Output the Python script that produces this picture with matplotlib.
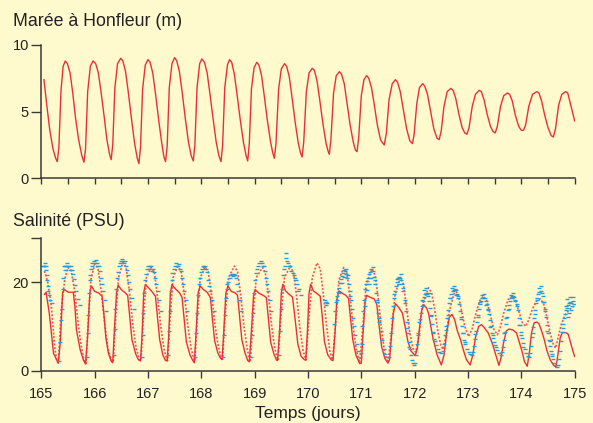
import numpy as np
import matplotlib
matplotlib.use("Agg")
import matplotlib.pyplot as plt

plt.rcParams["font.family"] = ["Liberation Sans", "DejaVu Sans"]

# Tide height at Honfleur: (day of year, metres)
tide_pts = [
    (165.05, 7.4), (165.10, 5.6), (165.16, 3.6), (165.22, 2.2), (165.27, 1.5),
    (165.30, 1.25), (165.33, 2.3), (165.37, 6.6), (165.41, 8.4), (165.45, 8.8), (165.49, 8.6), (165.54, 7.9), (165.59, 6.4), (165.64, 4.6), (165.70, 2.9), (165.76, 1.7),
    (165.80, 1.2), (165.83, 2.2), (165.87, 6.5), (165.92, 8.4), (165.97, 8.8), (166.02, 8.6), (166.07, 7.9), (166.12, 6.5), (166.18, 4.6), (166.23, 2.9), (166.28, 1.8),
    (166.31, 1.4), (166.34, 2.5), (166.38, 6.8), (166.43, 8.6), (166.49, 9.0), (166.53, 8.8), (166.58, 8.0), (166.63, 6.5), (166.69, 4.5), (166.75, 2.6), (166.80, 1.5),
    (166.83, 1.1), (166.86, 2.3), (166.90, 6.7), (166.95, 8.5), (167.00, 8.9), (167.04, 8.7), (167.09, 7.9), (167.14, 6.4), (167.20, 4.4), (167.26, 2.6), (167.30, 1.6),
    (167.33, 1.25), (167.36, 2.4), (167.40, 6.8), (167.45, 8.6), (167.50, 9.05), (167.54, 8.8), (167.59, 8.0), (167.64, 6.5), (167.70, 4.5), (167.76, 2.7), (167.81, 1.7),
    (167.85, 1.3), (167.88, 2.5), (167.92, 6.8), (167.97, 8.6), (168.01, 8.95), (168.06, 8.7), (168.11, 7.9), (168.16, 6.4), (168.22, 4.5), (168.28, 2.7), (168.33, 1.7),
    (168.37, 1.25), (168.40, 2.5), (168.44, 6.8), (168.49, 8.5), (168.53, 8.9), (168.57, 8.7), (168.62, 7.8), (168.67, 6.3), (168.73, 4.4), (168.79, 2.7), (168.84, 1.7),
    (168.87, 1.3), (168.90, 2.6), (168.94, 6.7), (168.99, 8.3), (169.04, 8.7), (169.08, 8.5), (169.13, 7.7), (169.18, 6.2), (169.24, 4.3), (169.30, 2.7), (169.34, 1.9),
    (169.37, 1.5), (169.40, 2.6), (169.45, 6.7), (169.50, 8.2), (169.56, 8.6), (169.60, 8.4), (169.65, 7.6), (169.70, 6.1), (169.76, 4.2), (169.82, 2.6), (169.86, 1.9),
    (169.89, 1.6), (169.92, 2.7), (169.97, 6.5), (170.02, 7.9), (170.08, 8.25), (170.12, 8.1), (170.17, 7.3), (170.22, 5.9), (170.28, 4.1), (170.34, 2.6), (170.38, 2.0),
    (170.40, 1.8), (170.43, 2.9), (170.48, 6.4), (170.53, 7.7), (170.59, 8.0), (170.63, 7.8), (170.68, 7.1), (170.73, 5.7), (170.79, 4.0), (170.85, 2.7), (170.89, 2.1),
    (170.92, 2.0), (170.95, 3.0), (171.00, 6.2), (171.05, 7.4), (171.10, 7.7), (171.14, 7.5), (171.19, 6.8), (171.24, 5.6), (171.30, 4.0), (171.36, 2.9), (171.39, 2.7),
    (171.43, 2.5), (171.47, 3.4), (171.52, 5.9), (171.58, 7.1), (171.64, 7.4), (171.68, 7.2), (171.73, 6.5), (171.79, 5.1), (171.85, 3.7), (171.91, 2.8),
    (171.96, 2.6), (171.99, 3.3), (172.04, 5.6), (172.09, 6.8), (172.15, 7.1), (172.19, 6.9), (172.24, 6.3), (172.30, 5.0), (172.36, 3.7), (172.42, 3.0),
    (172.46, 2.9), (172.50, 3.6), (172.55, 5.4), (172.61, 6.5), (172.68, 6.75), (172.72, 6.6), (172.77, 6.0), (172.83, 4.8), (172.89, 3.8), (172.94, 3.4),
    (172.98, 3.3), (173.02, 3.8), (173.08, 5.4), (173.14, 6.3), (173.21, 6.6), (173.25, 6.5), (173.30, 5.9), (173.36, 4.8), (173.42, 3.9), (173.47, 3.5),
    (173.51, 3.4), (173.55, 3.9), (173.61, 5.4), (173.67, 6.2), (173.74, 6.4), (173.78, 6.3), (173.83, 5.8), (173.89, 4.7), (173.95, 3.9), (174.00, 3.6),
    (174.04, 3.6), (174.08, 4.0), (174.14, 5.4), (174.21, 6.3), (174.29, 6.5), (174.33, 6.4), (174.38, 5.8), (174.44, 4.7), (174.50, 3.8), (174.56, 3.2),
    (174.60, 3.1), (174.64, 3.7), (174.70, 5.5), (174.76, 6.3), (174.83, 6.5), (174.87, 6.4), (174.92, 5.6), (174.97, 4.8), (175.00, 4.3),
]

# Salinity, station record (solid red): (day, PSU)
sal_solid_pts = [
    (165.06, 17.2), (165.09, 17.7), (165.15, 13.0), (165.19, 8.5), (165.23, 3.9), (165.29, 2.4),
    (165.32, 1.7), (165.36, 7.0), (165.40, 17.6), (165.43, 18.3), (165.51, 17.7), (165.60, 17.7), (165.63, 14.5), (165.66, 9.2), (165.73, 4.7), (165.79, 2.4),
    (165.83, 1.5), (165.87, 8.0), (165.91, 17.5), (165.94, 19.1), (166.00, 17.9), (166.08, 17.5), (166.14, 16.8), (166.18, 12.0), (166.21, 7.5), (166.26, 3.9), (166.31, 2.2),
    (166.34, 1.8), (166.37, 9.0), (166.41, 17.5), (166.44, 19.3), (166.50, 18.3), (166.57, 17.6), (166.62, 17.0), (166.66, 12.0), (166.70, 7.0), (166.77, 3.8), (166.82, 2.5),
    (166.86, 2.2), (166.89, 8.0), (166.92, 17.5), (166.95, 19.4), (167.02, 18.6), (167.09, 17.6), (167.14, 16.8), (167.18, 12.0), (167.22, 7.0), (167.28, 3.5), (167.33, 2.3),
    (167.36, 2.2), (167.39, 8.0), (167.42, 17.5), (167.45, 19.4), (167.52, 18.4), (167.59, 17.6), (167.64, 16.5), (167.68, 11.5), (167.72, 6.5), (167.79, 3.5), (167.84, 2.3),
    (167.87, 1.8), (167.90, 8.0), (167.94, 17.5), (167.98, 19.1), (168.04, 18.3), (168.11, 17.7), (168.17, 16.5), (168.21, 11.5), (168.25, 6.8), (168.31, 4.0), (168.36, 2.8),
    (168.39, 2.5), (168.42, 8.5), (168.46, 17.5), (168.50, 19.1), (168.56, 17.9), (168.63, 17.6), (168.68, 17.0), (168.72, 12.0), (168.76, 7.0), (168.82, 4.0), (168.87, 2.3),
    (168.90, 2.0), (168.94, 9.0), (168.98, 17.0), (169.01, 18.3), (169.08, 17.5), (169.16, 17.0), (169.22, 16.5), (169.26, 11.5), (169.30, 6.5), (169.36, 3.8), (169.41, 2.4),
    (169.43, 2.3), (169.47, 9.5), (169.50, 17.5), (169.53, 19.5), (169.58, 18.0), (169.65, 17.2), (169.71, 16.6), (169.76, 11.5), (169.81, 6.0), (169.87, 3.3), (169.93, 2.5),
    (169.96, 2.4), (169.99, 9.0), (170.02, 17.5), (170.05, 19.5), (170.10, 18.0), (170.17, 17.4), (170.23, 16.8), (170.27, 12.0), (170.31, 6.5), (170.37, 3.6), (170.44, 2.4),
    (170.47, 2.3), (170.51, 9.0), (170.54, 16.0), (170.58, 18.0), (170.64, 17.5), (170.71, 17.0), (170.76, 16.3), (170.80, 11.5), (170.84, 7.0), (170.90, 3.5), (170.97, 1.6),
    (171.00, 1.7), (171.03, 8.0), (171.07, 15.5), (171.10, 17.0), (171.16, 16.6), (171.24, 16.2), (171.29, 15.0), (171.33, 10.5), (171.38, 5.5), (171.44, 2.8), (171.50, 1.7),
    (171.53, 2.5), (171.56, 7.0), (171.60, 13.0), (171.64, 15.1), (171.70, 14.3), (171.77, 13.0), (171.82, 10.0), (171.87, 6.8), (171.93, 4.5), (172.01, 3.4),
    (172.05, 5.0), (172.09, 9.5), (172.13, 13.5), (172.17, 14.9), (172.22, 14.2), (172.26, 13.0), (172.31, 9.5), (172.35, 7.0), (172.42, 3.6), (172.50, 1.3),
    (172.55, 3.5), (172.60, 8.5), (172.65, 12.0), (172.70, 12.7), (172.75, 11.5), (172.80, 9.0), (172.86, 7.0), (172.91, 4.8), (172.97, 2.5), (173.04, 1.3),
    (173.09, 3.5), (173.14, 7.5), (173.20, 10.0), (173.25, 10.4), (173.30, 9.8), (173.38, 8.5), (173.46, 6.0), (173.51, 4.0), (173.58, 1.2),
    (173.62, 3.0), (173.67, 6.5), (173.72, 9.0), (173.77, 9.4), (173.84, 9.2), (173.91, 8.5), (173.96, 6.5), (174.01, 4.5), (174.06, 2.0), (174.11, 1.0),
    (174.15, 4.0), (174.19, 8.5), (174.24, 10.8), (174.29, 11.0), (174.33, 10.6), (174.38, 9.0), (174.43, 7.0), (174.48, 4.5), (174.54, 2.5), (174.60, 1.3), (174.65, 0.8),
    (174.69, 4.0), (174.73, 7.5), (174.77, 8.6), (174.83, 8.6), (174.88, 8.2), (174.93, 6.0), (174.97, 4.3), (175.00, 3.2),
]

# Salinity, second record (dotted red): (day, PSU)
sal_dotted_pts = [
    (165.06, 22.5), (165.12, 20.0), (165.19, 14.5), (165.25, 5.5), (165.29, 2.2),
    (165.32, 1.6), (165.375, 13.8), (165.44, 20.6), (165.50, 23.3), (165.56, 22.6), (165.63, 17.6), (165.69, 10.8), (165.75, 5.5), (165.80, 2.5),
    (165.84, 1.6), (165.88, 11.0), (165.93, 20.5), (166.00, 24.0), (166.06, 23.2), (166.13, 17.5), (166.19, 10.5), (166.25, 5.0), (166.31, 2.5),
    (166.35, 2.0), (166.39, 11.0), (166.45, 21.0), (166.53, 24.4), (166.59, 23.3), (166.66, 17.0), (166.72, 10.0), (166.78, 5.0), (166.84, 2.6),
    (166.87, 2.3), (166.91, 11.0), (166.97, 21.0), (167.06, 23.3), (167.12, 22.3), (167.18, 16.5), (167.24, 10.0), (167.30, 5.0), (167.35, 2.6),
    (167.37, 2.3), (167.41, 11.0), (167.47, 21.0), (167.56, 23.5), (167.62, 22.5), (167.69, 16.5), (167.75, 10.0), (167.81, 5.0), (167.86, 2.6),
    (167.88, 2.2), (167.92, 11.0), (167.98, 21.0), (168.07, 23.3), (168.13, 22.3), (168.20, 16.5), (168.26, 10.0), (168.32, 5.5), (168.37, 3.0),
    (168.40, 2.6), (168.44, 11.5), (168.51, 21.0), (168.62, 23.6), (168.68, 22.3), (168.74, 17.0), (168.80, 10.0), (168.86, 5.0), (168.91, 2.2),
    (168.92, 2.0), (168.97, 12.0), (169.03, 21.0), (169.15, 23.3), (169.20, 22.0), (169.26, 17.0), (169.32, 10.0), (169.38, 5.0), (169.43, 2.5),
    (169.44, 2.4), (169.49, 12.0), (169.56, 21.0), (169.67, 23.6), (169.73, 22.0), (169.79, 16.5), (169.85, 9.5), (169.91, 4.5), (169.96, 2.4),
    (170.02, 12.0), (170.08, 21.0), (170.17, 24.3), (170.23, 23.0), (170.29, 17.0), (170.35, 10.0), (170.41, 4.5), (170.46, 2.4),
    (170.52, 11.0), (170.58, 20.5), (170.67, 23.3), (170.73, 22.0), (170.79, 16.5), (170.85, 9.5), (170.91, 4.5), (170.97, 1.8),
    (171.03, 10.0), (171.09, 19.5), (171.20, 22.9), (171.26, 21.5), (171.32, 16.0), (171.38, 9.0), (171.44, 4.0), (171.50, 1.8),
    (171.56, 8.0), (171.63, 17.0), (171.73, 21.0), (171.79, 19.5), (171.85, 14.0), (171.91, 8.5), (171.97, 5.0), (172.02, 4.2),
    (172.08, 8.0), (172.15, 15.0), (172.26, 18.7), (172.32, 17.5), (172.38, 13.5), (172.44, 8.5), (172.49, 5.8), (172.53, 4.8),
    (172.59, 8.0), (172.65, 13.5), (172.76, 18.3), (172.82, 17.0), (172.88, 13.5), (172.94, 10.0), (173.01, 7.7),
    (173.08, 9.5), (173.15, 13.0), (173.22, 15.8), (173.29, 16.8), (173.35, 15.8), (173.41, 13.0), (173.48, 9.5), (173.55, 8.1),
    (173.60, 9.5), (173.67, 13.0), (173.75, 16.0), (173.83, 16.8), (173.89, 15.8), (173.95, 13.5), (174.02, 10.8), (174.08, 10.0),
    (174.14, 11.5), (174.21, 14.0), (174.29, 15.8), (174.36, 16.2), (174.42, 15.0), (174.48, 12.0), (174.54, 8.5), (174.60, 6.0), (174.64, 5.1),
    (174.69, 7.5), (174.75, 10.5), (174.82, 12.5), (174.88, 13.5), (174.94, 14.2), (174.98, 14.5),
]

# Salinity, probe samples (blue): (day, PSU)
sal_probe_pts = [
    (165.04, 23.6), (165.05, 23.6), (165.06, 23.6), (165.07, 24.2), (165.08, 23.6), (165.09, 22.8), (165.10, 21.5), (165.11, 20.5),
    (165.12, 19.2), (165.13, 18.0), (165.15, 17.0), (165.17, 16.0), (165.20, 15.3),
    (165.33, 2.2), (165.35, 6.5), (165.37, 11.5), (165.38, 14.0), (165.40, 18.5), (165.41, 21.0), (165.42, 23.6), (165.44, 23.6), (165.45, 22.8),
    (165.46, 23.6), (165.48, 24.2), (165.50, 23.6), (165.52, 23.6), (165.54, 22.8), (165.56, 23.6), (165.58, 22.6), (165.60, 21.8),
    (165.62, 20.6), (165.64, 19.4), (165.66, 18.0), (165.69, 16.2), (165.72, 14.8),
    (165.85, 3.0), (165.87, 8.5), (165.88, 12.5), (165.90, 17.5), (165.91, 20.5), (165.92, 21.5), (165.93, 23.0), (165.95, 23.6), (165.96, 24.2),
    (165.98, 24.8), (166.00, 24.2), (166.02, 25.0), (166.04, 24.2), (166.06, 23.6), (166.08, 23.6), (166.10, 22.5), (166.12, 21.0),
    (166.14, 19.5), (166.16, 18.0), (166.19, 16.0), (166.22, 13.5),
    (166.36, 3.5), (166.38, 9.5), (166.39, 14.0), (166.41, 18.5), (166.42, 21.0), (166.43, 22.3), (166.45, 23.6), (166.47, 24.2), (166.49, 24.8),
    (166.51, 25.3), (166.53, 24.8), (166.55, 24.2), (166.57, 24.8), (166.59, 23.6), (166.61, 22.8), (166.63, 21.5), (166.65, 20.0),
    (166.67, 18.5), (166.70, 16.5), (166.73, 14.0),
    (166.88, 3.0), (166.90, 8.0), (166.91, 13.0), (166.93, 17.5), (166.95, 20.5), (166.96, 21.8), (166.98, 23.0), (167.00, 23.6), (167.02, 23.0),
    (167.04, 23.6), (167.06, 23.6), (167.08, 22.5), (167.10, 23.0), (167.12, 22.3), (167.14, 21.0), (167.16, 19.5), (167.18, 18.0),
    (167.21, 16.0), (167.24, 13.5),
    (167.38, 3.5), (167.40, 9.0), (167.41, 13.5), (167.43, 18.0), (167.45, 20.5), (167.46, 22.0), (167.48, 23.0), (167.50, 23.6), (167.52, 24.2),
    (167.54, 23.6), (167.56, 23.6), (167.58, 24.0), (167.60, 23.0), (167.62, 22.5), (167.64, 21.0), (167.66, 19.5), (167.68, 18.0),
    (167.71, 16.0), (167.74, 13.5),
    (167.89, 3.0), (167.91, 8.5), (167.92, 13.0), (167.94, 17.0), (167.96, 19.5), (167.97, 21.0), (167.99, 22.3), (168.01, 23.0), (168.03, 23.6),
    (168.05, 23.3), (168.07, 23.6), (168.09, 23.0), (168.11, 22.3), (168.13, 20.5), (168.15, 19.0), (168.17, 18.0), (168.20, 16.0), (168.23, 13.5),
    (168.41, 3.0), (168.43, 8.0), (168.45, 12.5), (168.47, 16.5), (168.48, 19.5), (168.49, 18.5), (168.51, 20.0), (168.53, 21.0), (168.55, 21.5),
    (168.57, 21.8), (168.59, 21.3), (168.61, 21.8), (168.63, 21.5), (168.65, 20.8), (168.67, 19.5), (168.69, 18.0), (168.72, 16.0), (168.75, 13.5),
    (168.93, 3.0), (168.95, 8.0), (168.97, 13.0), (168.99, 17.5), (169.01, 20.5), (169.03, 22.0), (169.05, 23.0), (169.07, 23.6), (169.09, 24.2),
    (169.11, 24.8), (169.13, 24.2), (169.15, 23.6), (169.17, 23.6), (169.19, 22.5), (169.21, 21.0), (169.23, 19.5), (169.25, 18.0),
    (169.28, 16.0), (169.31, 13.5),
    (169.45, 3.5), (169.47, 9.0), (169.49, 14.0), (169.51, 18.5), (169.53, 21.5), (169.55, 23.0), (169.57, 23.6), (169.58, 25.5), (169.59, 26.5),
    (169.61, 24.8), (169.63, 24.2), (169.65, 23.6), (169.67, 23.6), (169.69, 22.5), (169.71, 22.0), (169.73, 21.5), (169.75, 20.8),
    (169.77, 20.5), (169.80, 19.5), (169.82, 18.0), (169.84, 18.5), (169.86, 17.0),
    (170.32, 16.0), (170.33, 15.5), (170.34, 14.8), (170.35, 15.2),
    (170.49, 10.5), (170.50, 13.5), (170.52, 15.5), (170.54, 16.8), (170.55, 16.0), (170.56, 17.8), (170.58, 18.6), (170.59, 17.6), (170.60, 19.8),
    (170.62, 20.6), (170.63, 19.8), (170.64, 21.4), (170.66, 22.0), (170.67, 21.2), (170.68, 22.6), (170.70, 22.4), (170.71, 23.0),
    (170.72, 21.8), (170.74, 20.8), (170.75, 21.6), (170.76, 19.5), (170.78, 18.0), (170.79, 16.8), (170.80, 16.0), (170.82, 14.0),
    (170.84, 12.0), (170.86, 10.0), (170.88, 8.0), (170.91, 6.0), (170.94, 4.5), (170.97, 3.2),
    (171.00, 4.0), (171.01, 6.0), (171.02, 10.0), (171.03, 13.5), (171.05, 16.0), (171.06, 14.5), (171.07, 18.5), (171.09, 19.5), (171.10, 18.2),
    (171.11, 20.2), (171.13, 21.0), (171.14, 19.6), (171.15, 21.8), (171.17, 22.3), (171.18, 20.8), (171.19, 22.9), (171.21, 23.4),
    (171.22, 22.4), (171.24, 21.2), (171.25, 20.4), (171.26, 19.5), (171.28, 17.5), (171.29, 16.0), (171.30, 15.5), (171.32, 13.0),
    (171.33, 12.0), (171.34, 11.0), (171.36, 9.0), (171.39, 7.0), (171.42, 5.0), (171.45, 3.8), (171.49, 3.2),
    (171.51, 3.2), (171.53, 5.5), (171.55, 8.5), (171.57, 12.0), (171.59, 14.5), (171.61, 16.5), (171.62, 17.2), (171.63, 18.0), (171.65, 19.2),
    (171.66, 20.6), (171.67, 20.0), (171.69, 20.8), (171.70, 19.6), (171.71, 21.2), (171.73, 21.0), (171.74, 21.8), (171.75, 20.5),
    (171.77, 19.5), (171.78, 18.6), (171.79, 18.0), (171.81, 16.0), (171.82, 15.2), (171.83, 13.5), (171.85, 11.0), (171.86, 9.6),
    (171.87, 8.5), (171.89, 6.5), (171.90, 5.4), (171.91, 5.0), (171.93, 3.5), (171.95, 2.5), (171.97, 1.8), (171.99, 1.3),
    (172.01, 1.8), (172.03, 3.5), (172.05, 6.0), (172.06, 8.0), (172.07, 8.5), (172.09, 11.0), (172.10, 11.6), (172.11, 13.0), (172.13, 14.5),
    (172.14, 16.0), (172.15, 15.8), (172.17, 16.6), (172.18, 18.2), (172.19, 17.2), (172.21, 17.6), (172.22, 18.6), (172.23, 17.4),
    (172.25, 16.8), (172.26, 17.6), (172.27, 15.8), (172.29, 14.2), (172.30, 12.4), (172.31, 12.5), (172.33, 10.5), (172.34, 8.6),
    (172.35, 8.8), (172.37, 7.2), (172.38, 6.8), (172.40, 5.8), (172.43, 4.8), (172.46, 4.2), (172.49, 3.9),
    (172.53, 4.5), (172.55, 6.0), (172.57, 8.0), (172.58, 9.2), (172.59, 10.0), (172.61, 12.0), (172.62, 12.6), (172.63, 13.8), (172.65, 15.2),
    (172.66, 16.4), (172.67, 16.4), (172.69, 17.3), (172.70, 18.6), (172.71, 17.9), (172.73, 18.3), (172.74, 19.2), (172.75, 18.4),
    (172.77, 18.1), (172.78, 17.0), (172.79, 17.4), (172.81, 16.4), (172.82, 16.8), (172.83, 15.0), (172.85, 13.4), (172.86, 12.2),
    (172.87, 11.6), (172.89, 10.0), (172.90, 8.6), (172.91, 8.4), (172.93, 7.0), (172.94, 6.4), (172.95, 6.0), (172.98, 5.0),
    (173.01, 4.2), (173.04, 3.8), (173.07, 3.6),
    (173.09, 4.2), (173.11, 5.5), (173.13, 7.2), (173.14, 8.2), (173.15, 9.0), (173.17, 11.0), (173.18, 12.2), (173.19, 12.6), (173.21, 14.0),
    (173.22, 15.6), (173.23, 15.0), (173.25, 15.8), (173.26, 17.0), (173.27, 16.3), (173.29, 16.5), (173.30, 17.2), (173.31, 16.3),
    (173.33, 15.8), (173.34, 14.8), (173.35, 15.0), (173.37, 14.0), (173.38, 13.6), (173.39, 12.8), (173.41, 11.4), (173.42, 9.8),
    (173.43, 10.0), (173.45, 8.6), (173.46, 8.0), (173.47, 7.4), (173.49, 6.4), (173.50, 5.8), (173.52, 5.4), (173.55, 4.6),
    (173.58, 4.0), (173.61, 3.6),
    (173.63, 4.2), (173.65, 5.4), (173.67, 7.0), (173.68, 8.6), (173.69, 8.8), (173.71, 10.6), (173.72, 11.8), (173.73, 12.2), (173.75, 13.6),
    (173.76, 14.0), (173.77, 14.8), (173.79, 15.7), (173.80, 17.0), (173.81, 16.3), (173.83, 16.7), (173.84, 17.6), (173.85, 16.8),
    (173.87, 16.6), (173.88, 15.8), (173.89, 16.0), (173.91, 15.0), (173.92, 14.6), (173.93, 13.6), (173.95, 12.0), (173.96, 10.2),
    (173.97, 10.4), (173.99, 8.8), (174.00, 8.0), (174.01, 7.4), (174.03, 6.2), (174.04, 5.4), (174.06, 5.0), (174.09, 4.0),
    (174.12, 3.4), (174.14, 3.2),
    (174.16, 4.0), (174.18, 5.6), (174.20, 7.6), (174.21, 8.4), (174.22, 9.8), (174.24, 12.0), (174.25, 12.8), (174.26, 13.8), (174.28, 15.3),
    (174.29, 16.0), (174.30, 16.5), (174.32, 17.3), (174.33, 18.6), (174.34, 17.8), (174.36, 18.0), (174.37, 19.2), (174.38, 17.6),
    (174.40, 16.8), (174.41, 15.4), (174.42, 15.6), (174.44, 14.0), (174.45, 13.4), (174.46, 12.2), (174.48, 10.4), (174.49, 9.0),
    (174.50, 8.6), (174.52, 7.0), (174.53, 6.6), (174.54, 5.6), (174.56, 4.4), (174.57, 3.8), (174.58, 3.4), (174.60, 2.6),
    (174.62, 1.8), (174.64, 1.3), (174.66, 0.9),
    (174.68, 1.4), (174.70, 2.6), (174.72, 4.5), (174.74, 6.8), (174.76, 8.8), (174.78, 10.5), (174.79, 9.6), (174.80, 11.8), (174.82, 12.8),
    (174.83, 14.6), (174.84, 13.6), (174.85, 16.2), (174.86, 14.2), (174.87, 12.2), (174.88, 14.8), (174.89, 13.0), (174.90, 15.2),
    (174.91, 16.6), (174.92, 15.6), (174.93, 13.8), (174.94, 15.2), (174.95, 14.6), (174.96, 15.8), (174.97, 16.6), (174.98, 15.0),
]

day_ticks = list(range(165, 176))
tide_yticks = [0, 5, 10]
sal_yticks = [0, 20, 30]
sal_yticklabels = ["0", "20", ""]

BG = "#FFFACD"
AXC = "#3a3a3a"
TXT = "#222222"
RED = "#E8303A"
RED_LIGHT = "#EF5858"
BLUE = "#2A9BD6"

tide_t, tide_h = np.array(tide_pts).T
solid_t, solid_s = np.array(sal_solid_pts).T
dot_t, dot_s = np.array(sal_dotted_pts).T
probe_t, probe_s = np.array(sal_probe_pts).T

fig = plt.figure(figsize=(5.93, 4.23), dpi=100, facecolor=BG)
ax1 = fig.add_axes([0.0696, 0.5785, 0.8995, 0.3152])
ax2 = fig.add_axes([0.0696, 0.1236, 0.8995, 0.3145])

for ax in (ax1, ax2):
    ax.set_facecolor(BG)
    for side in ("top", "right"):
        ax.spines[side].set_visible(False)
    for side in ("left", "bottom"):
        ax.spines[side].set_color(AXC)
        ax.spines[side].set_linewidth(1.1)
    ax.set_xlim(165, 175)
    ax.tick_params(colors=AXC, labelcolor=TXT, labelsize=10.5, width=1.0)
    ax.tick_params(axis="y", length=7, pad=2)
    ax.tick_params(axis="x", length=4)

# Tide panel
ax1.plot(tide_t, tide_h, color=RED, lw=1.0)
ax1.set_ylim(0, 10)
ax1.set_yticks(tide_yticks)
ax1.set_xticks(np.arange(165, 175.01, 0.5))
ax1.set_xticklabels([])

# Salinity panel
ax2.plot(dot_t, dot_s, color=RED_LIGHT, lw=1.2, ls=(0, (1.2, 1.0)))
ax2.plot(solid_t, solid_s, color=RED, lw=1.0)
ax2.plot(probe_t, probe_s, ls="none", marker="_", ms=2.8, mew=1.0, color=BLUE)
ax2.set_ylim(0, 30)
ax2.set_yticks(sal_yticks)
ax2.set_yticklabels(sal_yticklabels)
ax2.set_xticks(day_ticks)
ax2.tick_params(axis="x", length=5, pad=7)
ax2.set_xlabel("Temps (jours)", fontsize=12.5, color=TXT, labelpad=3)

fig.text(13 / 593, 1 - 21 / 423, "Marée à Honfleur (m)", fontsize=12.8, color=TXT, va="center", ha="left")
fig.text(13 / 593, 1 - 221 / 423, "Salinité (PSU)", fontsize=12.8, color=TXT, va="center", ha="left")

fig.savefig("out.png", dpi=100, facecolor=BG)
